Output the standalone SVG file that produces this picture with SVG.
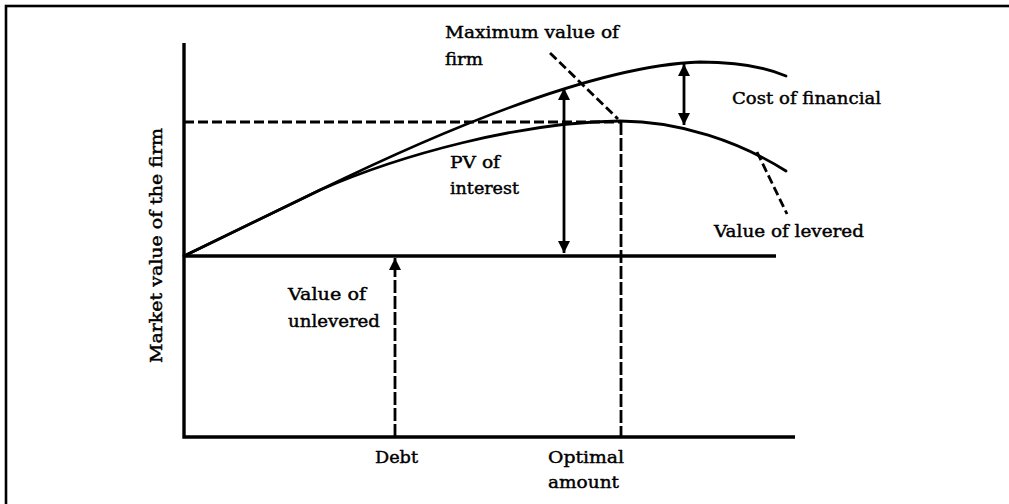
<svg xmlns="http://www.w3.org/2000/svg" width="1009" height="504" viewBox="0 0 1009 504">
  <style>
    text { font-family: "DejaVu Serif", "Liberation Serif", serif; font-size: 17.5px; fill: #000; stroke: #000; stroke-width: 0.45; }
    .axis { stroke: #000; stroke-width: 3.4; fill: none; }
    .curve { stroke: #000; stroke-width: 2.8; fill: none; stroke-linecap: round; }
    .dash { stroke: #000; stroke-width: 2.8; fill: none; }
    .arrow { stroke: #000; stroke-width: 2.8; fill: none; }
  </style>
  <defs>
    <marker id="head" viewBox="0 0 12 12" refX="12" refY="6" markerWidth="12" markerHeight="12" markerUnits="userSpaceOnUse" orient="auto-start-reverse">
      <path d="M0,0 L12,6 L0,12 z" fill="#000"/>
    </marker>
  </defs>
  <rect width="1009" height="504" fill="#fff"/>
  <rect id="frame" x="6" y="6" width="1020" height="520" fill="none" stroke="#000" stroke-width="2.6"/>

  <g id="axes">
    <path class="axis" d="M184,43 L184,437 L795,437"/>
    <line class="axis" x1="184" y1="256" x2="776" y2="256"/>
  </g>

  <g id="curve-max">
    <path class="curve" d="M184,256 L320,190 C400,151 580,66 700,62 C735,62 765,67 786,76"/>
  </g>
  <g id="curve-levered">
    <path class="curve" d="M184,256 L320,190 C400,155 520,122 620,121 C680,121 740,142 786,171"/>
  </g>

  <g id="guides">
    <line class="dash" x1="184" y1="122" x2="621" y2="122" stroke-dasharray="10 4"/>
    <line class="dash" x1="621" y1="122" x2="621" y2="437" stroke-dasharray="13 3"/>
    <line class="dash" x1="550" y1="53" x2="618" y2="119" stroke-dasharray="9 4"/>
    <line class="dash" x1="757" y1="152" x2="787" y2="214" stroke-dasharray="9 4"/>
  </g>

  <g id="connectors">
    <line class="arrow" x1="564" y1="88" x2="564" y2="253" marker-start="url(#head)" marker-end="url(#head)"/>
    <line class="arrow" x1="684" y1="64" x2="684" y2="125" marker-start="url(#head)" marker-end="url(#head)"/>
    <line class="arrow" x1="395" y1="437" x2="395" y2="258" stroke-dasharray="13 3" marker-end="url(#head)"/>
  </g>

  <g id="label-max">
    <text x="445" y="38" textLength="174" lengthAdjust="spacingAndGlyphs">Maximum value of</text>
    <text x="445" y="65" textLength="38" lengthAdjust="spacingAndGlyphs">firm</text>
  </g>
  <g id="label-cost">
    <text x="732" y="104" textLength="149" lengthAdjust="spacingAndGlyphs">Cost of financial</text>
  </g>
  <g id="label-pv">
    <text x="450" y="168" textLength="50" lengthAdjust="spacingAndGlyphs">PV of</text>
    <text x="450" y="194" textLength="69" lengthAdjust="spacingAndGlyphs">interest</text>
  </g>
  <g id="label-levered">
    <text x="714" y="237" textLength="150" lengthAdjust="spacingAndGlyphs">Value of levered</text>
  </g>
  <g id="label-unlevered">
    <text x="288" y="300" textLength="78" lengthAdjust="spacingAndGlyphs">Value of</text>
    <text x="288" y="327" textLength="92" lengthAdjust="spacingAndGlyphs">unlevered</text>
  </g>
  <g id="label-debt">
    <text x="375" y="463" textLength="43" lengthAdjust="spacingAndGlyphs">Debt</text>
  </g>
  <g id="label-optimal">
    <text x="548" y="463" textLength="76" lengthAdjust="spacingAndGlyphs">Optimal</text>
    <text x="548" y="488" textLength="71" lengthAdjust="spacingAndGlyphs">amount</text>
  </g>
  <g id="label-yaxis">
    <text transform="translate(162,363) rotate(-90)" x="0" y="0" textLength="235" lengthAdjust="spacingAndGlyphs">Market value of the firm</text>
  </g>
</svg>
